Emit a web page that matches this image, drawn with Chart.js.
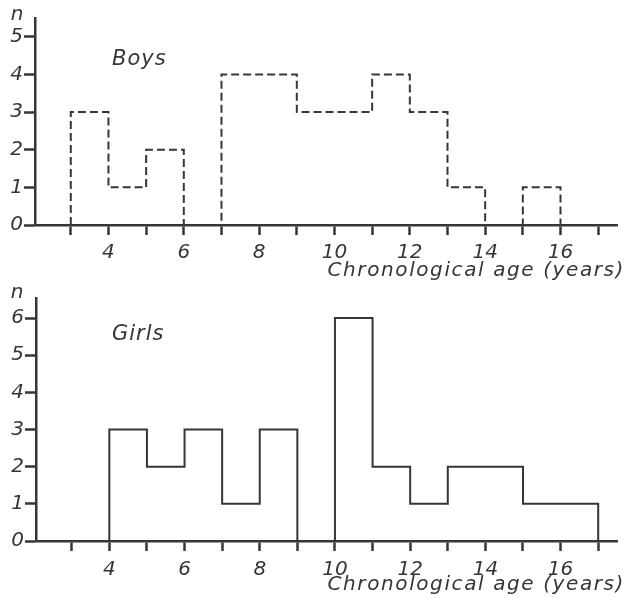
<!DOCTYPE html>
<html>
<head>
<meta charset="utf-8">
<title>Chronological age histograms</title>
<script src="https://cdn.jsdelivr.net/npm/chart.js@4.4.1/dist/chart.umd.min.js"></script>
<style>
    body { margin: 0; background: #fff; }
    canvas { position: absolute; left: 0; }
    #chartBoys { top: 0; }
    #chartGirls { top: 280px; }
</style>
</head>
<body>
<canvas id="chartBoys" width="627" height="280"></canvas>
<canvas id="chartGirls" width="627" height="319"></canvas>
<script>
// Age ticks (years) and the ones that get a number
const ageTicks = [3, 4, 5, 6, 7, 8, 9, 10, 11, 12, 13, 14, 15, 16, 17];
const ageLabels = [4, 6, 8, 10, 12, 14, 16];

// Boys: one-year bins starting at 3 years
const boysFirstAge = 3;
const boysCounts = [3, 1, 2, 0, 4, 4, 3, 3, 4, 3, 1, 0, 1, 0];
const boysTicks = [0, 1, 2, 3, 4, 5];

// Girls: one-year bins starting at 4 years
const girlsFirstAge = 4;
const girlsCounts = [3, 2, 3, 1, 3, 0, 6, 2, 1, 2, 2, 1, 1];
const girlsTicks = [0, 1, 2, 3, 4, 5, 6];

const ink = '#34363a';
const font = { family: '"DejaVu Sans", sans-serif', size: 20, style: 'italic' };

// histogram outline: start on the axis, one point per bin edge, back to the axis
function outline(firstAge, counts) {
    const pts = [{ x: firstAge, y: 0 }];
    counts.forEach(function(c, i) { pts.push({ x: firstAge + i, y: c }); });
    pts.push({ x: firstAge + counts.length, y: 0 });
    return pts;
}

// "n", the group name and the axis title
const textPlugin = {
    id: 'texts',
    afterDraw: function(chart, args, opts) {
        const ctx = chart.ctx;
        ctx.save();
        ctx.fillStyle = ink;
        ctx.font = 'italic 20px "DejaVu Sans", sans-serif';
        ctx.letterSpacing = '0px';
        ctx.textAlign = 'center';
        ctx.fillText('n', 17, opts.nY);
        ctx.font = 'italic 21px "DejaVu Sans", sans-serif';
        ctx.letterSpacing = '1px';
        ctx.textAlign = 'left';
        ctx.fillText(opts.name, 112, opts.nameY);
        ctx.font = 'italic 20px "DejaVu Sans", sans-serif';
        ctx.letterSpacing = '1.6px';
        ctx.textAlign = 'right';
        ctx.fillText('Chronological age (years)', 625, opts.titleY);
        ctx.restore();
    }
};

function makeConfig(points, dash, yMax, yTicks, yWidth, xHeight, tickPad, texts) {
    return {
        type: 'line',
        data: {
            datasets: [{
                data: points,
                stepped: 'before',
                borderColor: ink,
                borderWidth: 2,
                borderDash: dash,
                pointRadius: 0,
                fill: false
            }]
        },
        options: {
            responsive: false,
            animation: false,
            layout: { padding: { top: 18, right: 627 - 617, left: 0, bottom: 0 } },
            plugins: {
                legend: { display: false },
                tooltip: { enabled: false },
                texts: texts
            },
            scales: {
                x: {
                    type: 'linear',
                    min: 2.05,
                    max: 17.5,
                    afterBuildTicks: function(scale) {
                        scale.ticks = ageTicks.map(function(v) { return { value: v }; });
                    },
                    afterFit: function(scale) { scale.height = xHeight; },
                    ticks: {
                        autoSkip: false,
                        maxRotation: 0,
                        padding: tickPad,
                        color: ink,
                        font: font,
                        callback: function(v) { return ageLabels.includes(v) ? String(v) : ''; }
                    },
                    grid: { drawOnChartArea: false, tickLength: 10, tickWidth: 2.5, tickColor: ink },
                    border: { color: ink, width: 2.5 }
                },
                y: {
                    min: 0,
                    max: yMax,
                    afterBuildTicks: function(scale) {
                        scale.ticks = yTicks.map(function(v) { return { value: v }; });
                    },
                    afterFit: function(scale) { scale.width = yWidth; },
                    ticks: { padding: 1, color: ink, font: font },
                    grid: { drawOnChartArea: false, tickLength: 11, tickWidth: 2.5, tickColor: ink },
                    border: { color: ink, width: 2.5 }
                }
            }
        },
        plugins: [textPlugin]
    };
}

window.onload = function() {
    new Chart(document.getElementById('chartBoys'),
        makeConfig(outline(boysFirstAge, boysCounts), [8, 4], 5.5, boysTicks, 35, 280 - 225, 6,
            { nY: 20, name: 'Boys', nameY: 65, titleY: 276 }));
    new Chart(document.getElementById('chartGirls'),
        makeConfig(outline(girlsFirstAge, girlsCounts), [], 6.54, girlsTicks, 36, 319 - 261, 7,
            { nY: 18, name: 'Girls', nameY: 60, titleY: 310 }));
};
</script>
</body>
</html>
